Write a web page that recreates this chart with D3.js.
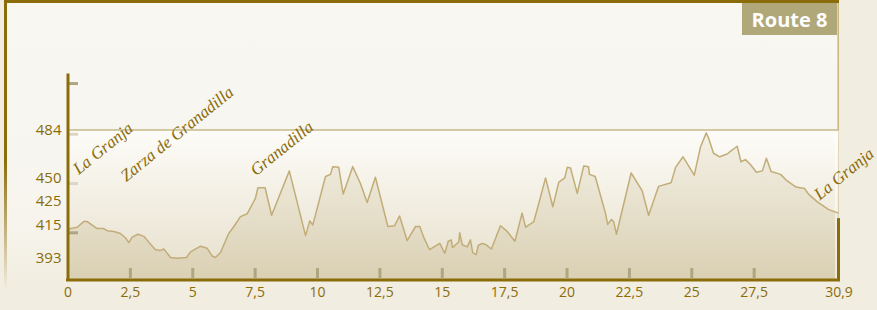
<!DOCTYPE html>
<html>
<head>
<meta charset="utf-8">
<script src="https://cdn.jsdelivr.net/npm/d3@7"></script>
<style>
  body { margin: 0; background: #f1ede0; }
  svg { display: block; }
</style>
</head>
<body>
<div id="chart"></div>
<script>
// distance (km) and elevation (m)
const km = [0,0.12,0.39,0.65,0.79,0.99,1.19,1.45,1.59,1.86,
  2.12,2.32,2.46,2.59,2.82,3.06,3.30,3.53,3.73,3.86,
  4.13,4.40,4.77,4.93,5.33,5.60,5.80,5.93,6.13,6.46,
  6.67,6.93,7.20,7.53,7.63,7.92,8.18,8.89,9.54,9.71,
  9.83,10.34,10.54,10.63,10.87,11.05,11.43,11.74,12.01,12.34,
  12.84,13.11,13.31,13.61,13.95,14.12,14.26,14.51,14.92,15.12,
  15.26,15.38,15.43,15.68,15.72,15.82,16.02,16.15,16.24,16.38,
  16.46,16.62,16.78,16.99,17.35,17.62,17.93,18.22,18.36,18.69,
  18.92,19.16,19.45,19.69,19.93,20.03,20.16,20.43,20.69,20.88,
  20.92,21.15,21.56,21.65,21.80,21.89,22.00,22.59,23.03,23.29,
  23.69,24.19,24.37,24.67,25.12,25.37,25.60,25.70,25.89,26.14,
  26.44,26.58,26.84,26.99,27.17,27.37,27.61,27.85,28.01,28.20,
  28.58,28.83,29.20,29.54,29.70,30.05,30.51,30.90];
const elevation = [413,414,415,419,419,416.5,414,414,412.5,412,
  410.5,407.5,404,408,410,408.5,403.5,399,398.5,399.5,
  393.5,393,393.5,397.5,401.5,400,394.5,393.5,397,410.5,
  415.5,422.5,424.5,435.5,443,443,423.5,455,409,419.5,
  416.5,451,452.5,458,457.5,438.5,458,446,432.5,450.5,
  415.5,416,423,405.5,415.5,415.5,408.5,399,403.5,396.5,
  405,406,400.5,404.5,411,402.5,401,406,397,395.5,
  402,403.5,402.5,399.5,416,412,405,425,415,419,
  434,450,429.5,447,450,457.5,457,439,458.5,458,
  452.5,451,425,417,420.5,419,410,453.5,441,423.5,
  444,446.5,457.5,465,452,472,482,478,467.5,465,
  467,469,472.5,461.5,463,459.5,454,455,464,454.5,
  452.5,448,443.5,442.5,438.5,433,427.5,425];

const xTicks = [0, 2.5, 5, 7.5, 10, 12.5, 15, 17.5, 20, 22.5, 25, 27.5, 30.9];
const yTicks = [484, 450, 425, 415, 393];
const yMarks = [411, 446, 481, 517];   // unlabelled marks on the y axis
const maxElevation = 484;

const places = ["La Granja", "Zarza de Granadilla", "Granadilla", "La Granja"];
const placeKm = [0.45, 2.35, 7.55, 30.15];
const placeElev = [452, 447, 451, 434];

const routeName = "Route 8";

const width = 877, height = 310;
const gold = "#8b6c0b";

const svg = d3.select("#chart").append("svg")
    .attr("width", width).attr("height", height);

const defs = svg.append("defs");

function vGrad(id, y1, y2, stops) {
    const g = defs.append("linearGradient").attr("id", id)
        .attr("gradientUnits", "userSpaceOnUse")
        .attr("x1", 0).attr("x2", 0).attr("y1", y1).attr("y2", y2);
    stops.forEach(s => g.append("stop").attr("offset", s[0]).attr("stop-color", s[1]));
}

const x = d3.scaleLinear().domain([0, 30.9]).range([67.5, 838.5]);
const y = d3.scaleLinear().domain([377.5, 524.5]).range([280, 73]);

vGrad("frameFill", 0, 292, [[0, "#f8f7f2"], [0.72, "#f7f5ee"], [1, "#f1ede0"]]);
vGrad("frameEdge", 0, 290, [[0, gold], [0.55, gold], [1, "#f1ede0"]]);
vGrad("plotFill", y(maxElevation), y(377.5), [[0, "#fdfcf8"], [1, "#e6dfcb"]]);
vGrad("areaFill", y(maxElevation), y(377.5), [[0, "#f4f1e7"], [1, "#dad0b3"]]);

// outer frame
svg.append("rect").attr("x", 5).attr("y", 1).attr("width", 833).attr("height", 290)
    .attr("fill", "url(#frameFill)");
svg.append("line").attr("x1", 838.2).attr("x2", 838.2).attr("y1", 0).attr("y2", 280)
    .attr("stroke", "#c7b47c").attr("stroke-width", 1.5);
svg.append("rect").attr("x", 4).attr("y", 0).attr("width", 3).attr("height", 290)
    .attr("fill", "url(#frameEdge)");
svg.append("rect").attr("x", 4).attr("y", 0).attr("width", 835).attr("height", 3)
    .attr("fill", gold);

// route badge
svg.append("rect").attr("x", 742).attr("y", 3).attr("width", 95).attr("height", 32)
    .attr("fill", "#b0a878");
svg.append("text").attr("x", 789.5).attr("y", 27)
    .attr("text-anchor", "middle")
    .style("font-family", "'Open Sans', sans-serif").style("font-weight", "bold")
    .style("font-size", "20px").attr("fill", "#ffffff")
    .text(routeName);

// plot background below the max elevation line
svg.append("rect").attr("x", x(0)).attr("y", y(maxElevation))
    .attr("width", x(30.9) - x(0)).attr("height", y(377.5) - y(maxElevation))
    .attr("fill", "url(#plotFill)");

const data = km.map((d, i) => [d, elevation[i]]);

const area = d3.area()
    .x(d => x(d[0])).y0(y(377.5)).y1(d => y(d[1]));
const line = d3.line()
    .x(d => x(d[0])).y(d => y(d[1]));

svg.append("path").datum(data).attr("d", area).attr("fill", "url(#areaFill)");

// light strip on the right edge
svg.append("line").attr("x1", x(30.9) - 2.5).attr("x2", x(30.9) - 2.5)
    .attr("y1", y(maxElevation) + 4).attr("y2", y(377.5))
    .attr("stroke", "#ffffff").attr("stroke-opacity", 0.7).attr("stroke-width", 1.5);

svg.append("path").datum(data).attr("d", line)
    .attr("fill", "none").attr("stroke", "#c2ad78").attr("stroke-width", 1.5)
    .attr("stroke-linejoin", "round");

// max elevation line
svg.append("line").attr("x1", x(0)).attr("x2", x(30.9))
    .attr("y1", y(maxElevation)).attr("y2", y(maxElevation))
    .attr("stroke", "#c9b88a").attr("stroke-width", 1.5);

// right edge of the profile
svg.append("line").attr("x1", x(30.9)).attr("x2", x(30.9))
    .attr("y1", y(elevation[elevation.length - 1]) + 5).attr("y2", y(377.5))
    .attr("stroke", gold).attr("stroke-width", 3);

// y axis marks
svg.selectAll(".ymark").data(yMarks).join("line").attr("class", "ymark")
    .attr("x1", 68).attr("x2", 78)
    .attr("y1", d => y(d)).attr("y2", d => y(d))
    .attr("stroke", d => (d > 440 && d < 490) ? "#dcd6c2" : "#ada583")
    .attr("stroke-width", 3);

// x axis
const xAxis = svg.append("g").attr("transform", `translate(0,${y(377.5)})`)
    .call(d3.axisBottom(x).tickValues(xTicks).tickSizeInner(-12).tickSizeOuter(0).tickPadding(7)
        .tickFormat(d => String(d).replace(".", ",")));
xAxis.select(".domain").attr("stroke", gold).attr("stroke-width", 3)
    .attr("d", `M${x(0) - 1.5},0H${x(30.9) + 1.5}`);
xAxis.selectAll(".tick line").attr("stroke", "#aea67f").attr("stroke-width", 3)
    .attr("y2", -12).attr("y1", -1.5)
    .style("display", d => (d === 0 || d === 30.9) ? "none" : null);
xAxis.selectAll(".tick text").attr("fill", gold)
    .style("font-family", "'Open Sans', sans-serif").style("font-size", "14px");

// y axis
const yAxis = svg.append("g").attr("transform", `translate(${x(0)},0)`)
    .call(d3.axisLeft(y).tickValues(yTicks).tickSize(0).tickPadding(6));
yAxis.select(".domain").attr("stroke", gold).attr("stroke-width", 3);
yAxis.selectAll(".tick text").attr("fill", gold)
    .style("font-family", "'Open Sans', sans-serif").style("font-size", "15px")
    // the 425 label sits higher in the original so it clears 415
    .attr("dy", d => d === 425 ? "-0.5em" : (d === 415 ? "0.12em" : "0.32em"));

// place names
svg.selectAll(".place").data(places).join("text").attr("class", "place")
    .attr("transform", (d, i) => `translate(${x(placeKm[i])},${y(placeElev[i])}) rotate(-39)`)
    .attr("fill", gold)
    .style("font-family", "'Liberation Serif', serif").style("font-style", "italic")
    .style("font-size", "17px")
    .text(d => d);
</script>
</body>
</html>
